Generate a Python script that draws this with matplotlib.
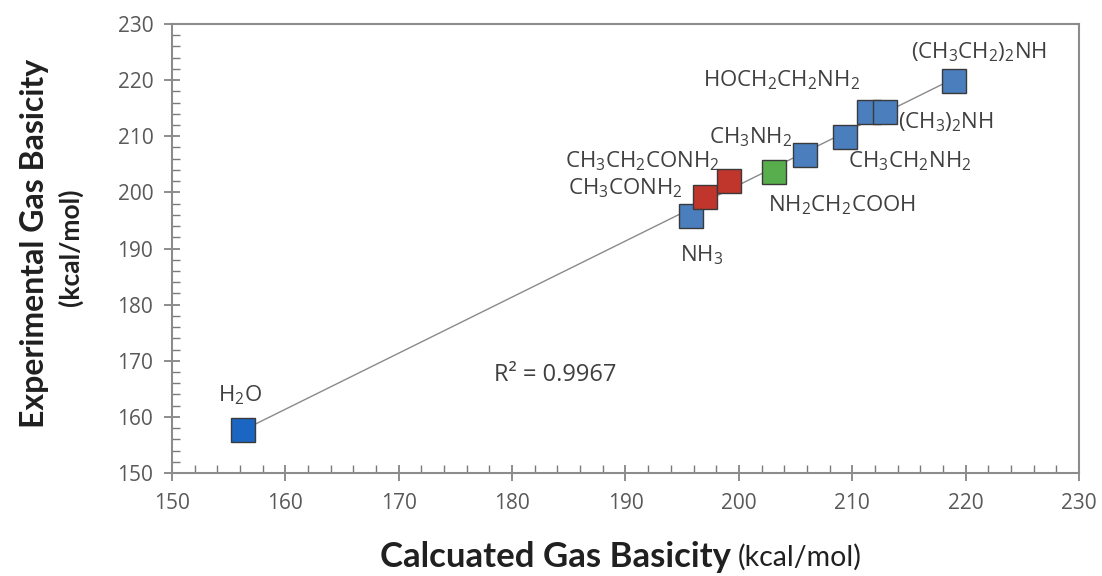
import numpy as np
import matplotlib
matplotlib.use("Agg")
import matplotlib.pyplot as plt
from matplotlib.ticker import MultipleLocator

plt.rcParams["font.family"] = ["Open Sans", "DejaVu Sans"]
plt.rcParams["mathtext.fontset"] = "custom"
plt.rcParams["mathtext.rm"] = "Open Sans"
plt.rcParams["mathtext.it"] = "Open Sans:italic"
plt.rcParams["mathtext.bf"] = "Open Sans:bold"

# Molecules, calculated vs experimental gas basicity (kcal/mol)
molecules = ["H$_2$O", "NH$_3$", "CH$_3$CONH$_2$", "CH$_3$CH$_2$CONH$_2$",
             "NH$_2$CH$_2$COOH", "CH$_3$NH$_2$", "CH$_3$CH$_2$NH$_2$",
             "HOCH$_2$CH$_2$NH$_2$", "(CH$_3$)$_2$NH", "(CH$_3$CH$_2$)$_2$NH"]
calculated = [156.3, 195.8, 197.0, 199.1, 203.1, 205.8, 209.4, 211.5, 212.9, 219.0]
experimental = [157.6, 195.8, 199.2, 202.0, 203.6, 206.7, 209.9, 214.3, 214.3, 219.8]
groups = ["water", "amine", "amide", "amide", "amino acid", "amine", "amine",
          "amine", "amine", "amine"]
r_squared = 0.9967

colors = {"water": "#1a66c2", "amine": "#4a7ebd", "amide": "#c0362c",
          "amino acid": "#58ad4c"}

# label offsets in pixels from each marker, with horizontal alignment
label_style = {
    "H$_2$O": (-3, 35, "center"),
    "NH$_3$": (10, -39, "center"),
    "CH$_3$CONH$_2$": (-22, 9, "right"),
    "CH$_3$CH$_2$CONH$_2$": (-9, 20, "right"),
    "NH$_2$CH$_2$COOH": (68, -33, "center"),
    "CH$_3$NH$_2$": (-12, 18, "right"),
    "CH$_3$CH$_2$NH$_2$": (64, -24, "center"),
    "HOCH$_2$CH$_2$NH$_2$": (-88, 32, "center"),
    "(CH$_3$)$_2$NH": (13, -10, "left"),
    "(CH$_3$CH$_2$)$_2$NH": (25, 29, "center"),
}

fig = plt.figure(figsize=(11.02, 5.76), dpi=100)
ax = fig.add_axes([0.1561, 0.1788, 0.8230, 0.7795])

x = np.array(calculated)
y = np.array(experimental)

# linear trendline across the data range
slope, intercept = np.polyfit(x, y, 1)
xs = np.array([x.min(), x.max()])
ax.plot(xs, slope * xs + intercept, color="#8a8a8a", lw=1.0, zorder=2)

for xi, yi, g in zip(x, y, groups):
    ax.plot(xi, yi, marker="s", ms=17, color=colors[g], mec="#3a3a3a",
            mew=1.0, zorder=3, ls="none")

for name, xi, yi in zip(molecules, x, y):
    dx, dy, ha = label_style[name]
    ax.annotate(name, (xi, yi), xytext=(dx, dy), textcoords="offset pixels",
                ha=ha, va="center", fontsize=16, color="#404040", zorder=4)

ax.text(555, 576 - 375, f"R² = {r_squared}", transform=None, fontsize=17,
        color="#404040", ha="center", va="center")

ax.set_xlim(150, 230)
ax.set_ylim(150, 230)
ax.xaxis.set_major_locator(MultipleLocator(10))
ax.yaxis.set_major_locator(MultipleLocator(10))
ax.xaxis.set_minor_locator(MultipleLocator(2))
ax.yaxis.set_minor_locator(MultipleLocator(2))

for s in ax.spines.values():
    s.set_color("#8c8c8c")
    s.set_linewidth(1.5)

ax.tick_params(which="major", direction="inout", length=11, width=1.2,
               color="#7a7a7a", labelsize=15, labelcolor="#595959")
ax.tick_params(which="minor", direction="in", length=6, width=1.0,
               color="#7a7a7a")
ax.tick_params(axis="x", which="major", pad=9)
ax.tick_params(axis="y", which="major", pad=8)

# axis titles
fig.text(731 / 1102, 1 - 557 / 576, "Calcuated Gas Basicity", ha="right",
         va="center", fontsize=25, fontweight="bold", family="Lato",
         color="#202020")
fig.text(738 / 1102, 1 - 557 / 576, "(kcal/mol)", ha="left", va="center",
         fontsize=20.5, family="Lato", color="#202020")
fig.text(35 / 1102, 1 - 243 / 576, "Experimental Gas Basicity", ha="center",
         va="center", rotation=90, fontsize=23, fontweight="bold",
         family="Lato", color="#202020")
fig.text(70 / 1102, 1 - 247 / 576, "(kcal/mol)", ha="center", va="center",
         rotation=90, fontsize=19, fontweight="bold", family="Lato",
         color="#202020")

fig.savefig("out.png", dpi=100)
